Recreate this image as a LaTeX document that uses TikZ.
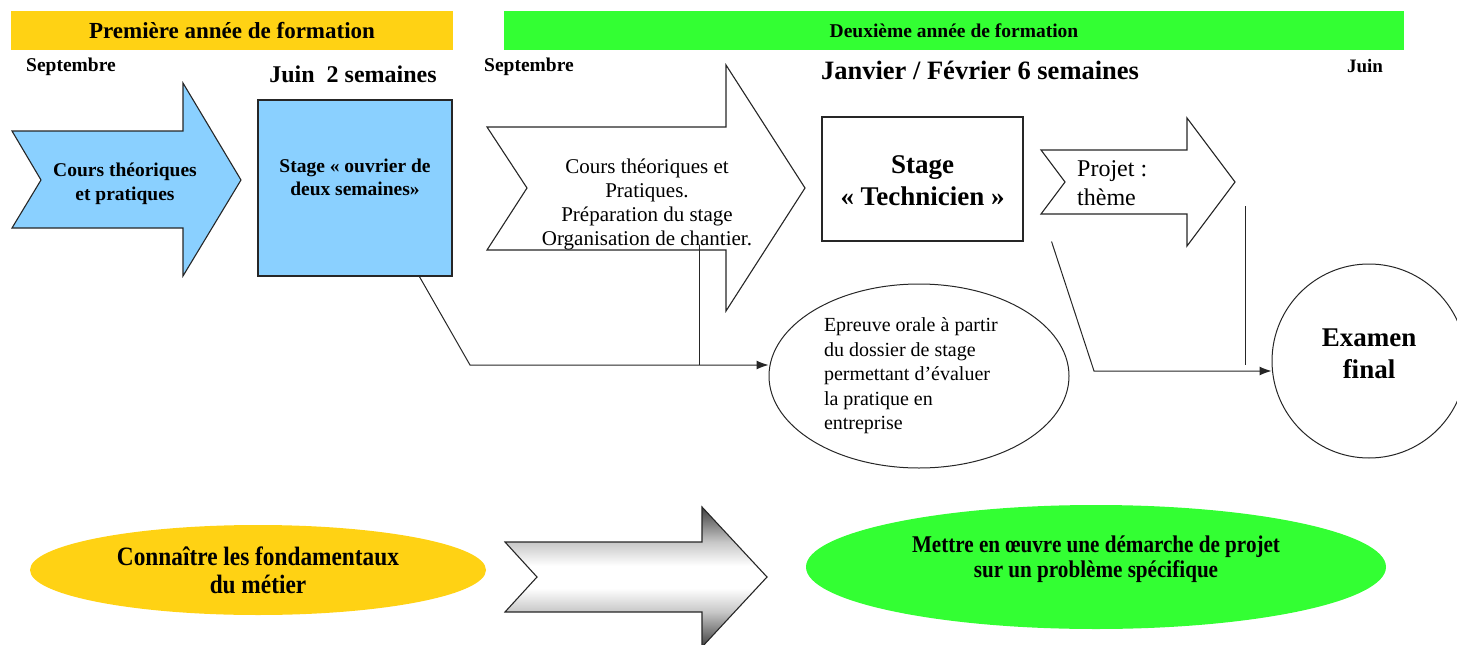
\documentclass[tikz,border=0pt]{standalone}
\usepackage{fontspec}
\setmainfont{Liberation Serif}
\newfontfamily\narrowfont{Liberation Serif}[FakeStretch=0.88]
\usetikzlibrary{arrows.meta,calc,shapes.geometric}
\definecolor{jaune}{HTML}{FFD214}
\definecolor{vert}{HTML}{33FF33}
\definecolor{bleu}{HTML}{8AD0FF}
\pgfdeclareverticalshading{grisfl}{100bp}{color(0bp)=(black!75); color(25bp)=(black!75);
  color(37.5bp)=(black!22); color(46bp)=(white); color(54bp)=(white);
  color(62.5bp)=(black!22); color(75bp)=(black!75); color(100bp)=(black!75)}
\begin{document}
\begin{tikzpicture}[
        x=1pt, y=-1pt,
        line join=miter
    ]
    \tikzset{
        bandeau/.style = {rectangle, inner sep=0pt, minimum height=39pt},
        mois/.style = {inner sep=0pt, font=\fontsize{19.5}{22}\selectfont\bfseries},
        duree/.style = {inner sep=0pt, font=\fontsize{24}{28}\selectfont\bfseries},
        fleche/.style = {draw=black!85, line width=1.1pt},
        boite/.style = {rectangle, draw=black!85, line width=1.1pt, align=center},
        bulle/.style = {ellipse, draw=black!85, line width=1pt, inner sep=0pt},
        tache/.style = {ellipse, inner sep=0pt, align=center},
        lien/.style = {-, line width=1pt, black!85},
        lienf/.style = {-{Latex[length=12pt,width=9pt]}, line width=1pt, black!85},
    }
    \useasboundingbox (0,0) rectangle (1457,645);
    % en-tetes
    \node[bandeau, fill=jaune, minimum width=442pt, font=\fontsize{23}{27}\selectfont\bfseries] (an1) at (232,30.5) {Première année de formation};
    \node[bandeau, fill=vert, minimum width=900pt, font=\fontsize{19.5}{23}\selectfont\bfseries] (an2) at (954,30.5) {Deuxième année de formation};
    \node[mois] (sept1) at (71,67) {Septembre};
    \node[duree] (juin1) at (353,74) {Juin\ \ 2 semaines};
    \node[mois] (sept2) at (529,67) {Septembre};
    \node[duree, font=\fontsize{26.5}{30}\selectfont\bfseries] (janv) at (980,70) {Janvier / Février 6 semaines};
    \node[mois, font=\fontsize{19}{22}\selectfont\bfseries] (juin2) at (1365,66) {Juin};
    %
    \draw[fleche, fill=bleu] (12,131) -- (183,131) -- (183,83) -- (241,180) -- (183,276) -- (183,228) -- (12,228) -- (41,180) -- cycle;
    \node[align=center, font=\fontsize{19.5}{24}\selectfont\bfseries] (cours1) at (125,184) {Cours théoriques\\et pratiques};
    \node[boite, fill=bleu, minimum width=194pt, minimum height=176pt, text depth=22pt, font=\fontsize{19.5}{23}\selectfont\bfseries] (stage1) at (355,188) {Stage « ouvrier de\\deux semaines»};
    %
    \draw[fleche, fill=white] (487,127) -- (726,127) -- (726,65) -- (805,188) -- (726,311) -- (726,250) -- (487,250) -- (527,188) -- cycle;
    \node[align=center, font=\fontsize{21}{24}\selectfont] (cours2) at (647,204) {Cours théoriques et\\Pratiques.\\Préparation du stage\\Organisation de chantier.};
    \node[boite, fill=white, minimum width=201pt, minimum height=124pt, text height=54pt, font=\fontsize{27}{32}\selectfont\bfseries] (tech) at (922.5,179) {Stage\\« Technicien »};
    %
    \draw[fleche, fill=white] (1041,150) -- (1187,150) -- (1187,118) -- (1235,182) -- (1187,246) -- (1187,214) -- (1041,214) -- (1065,182) -- cycle;
    \node[anchor=west, align=left, inner sep=0pt, font=\fontsize{24}{29}\selectfont] (projet) at (1077,183) {Projet :\\thème};
    %
    \node[bulle, minimum width=300pt, minimum height=184pt, text width=190pt, align=flush left, font=\fontsize{20}{24.5}\selectfont] (oral) at (919,376) {Epreuve orale à partir\\du dossier de stage\\permettant d’évaluer\\la pratique en\\entreprise};
    \node[circle, draw=black!85, line width=1pt, minimum size=194pt, text depth=14pt, align=center, font=\fontsize{27}{32}\selectfont\bfseries] (exam) at (1369,361) {Examen\\final};
    %
    \coordinate (k1) at (470,365);
    \coordinate (j1) at (699,365);
    \coordinate (j1h) at (699,245);
    \coordinate (k2) at (1094,371);
    \coordinate (f1) at (1245,206);
    \coordinate (f2) at (1245,365);
    \draw[lienf] ($(stage1.south west)!0.83!(stage1.south east)$) -- (k1) -- (k1 -| oral.west);
    \draw[lien] (j1h) -- (j1);
    \draw[lienf] ($(tech.south east)+(28,0)$) -- (k2) -- (k2 -| exam.west);
    \draw[lien] (f1) -- (f2);
    % objectifs
    \node[tache, fill=jaune, minimum width=456pt, minimum height=90pt, font=\narrowfont\bfseries\fontsize{26.5}{28}\selectfont] (savoir) at (258,570) {Connaître les fondamentaux\\du métier};
    \shadedraw[fleche, shading=grisfl] (505,542) -- (702,542) -- (702,507) -- (767,577) -- (702,647) -- (702,612) -- (505,612) -- (537,577) -- cycle;
    \node[tache, fill=vert, minimum width=580pt, minimum height=124pt, text depth=20pt, font=\narrowfont\bfseries\fontsize{24}{25}\selectfont] (demarche) at (1096,567) {Mettre en œuvre une démarche de projet\\sur un problème spécifique};
\end{tikzpicture}
\end{document}
